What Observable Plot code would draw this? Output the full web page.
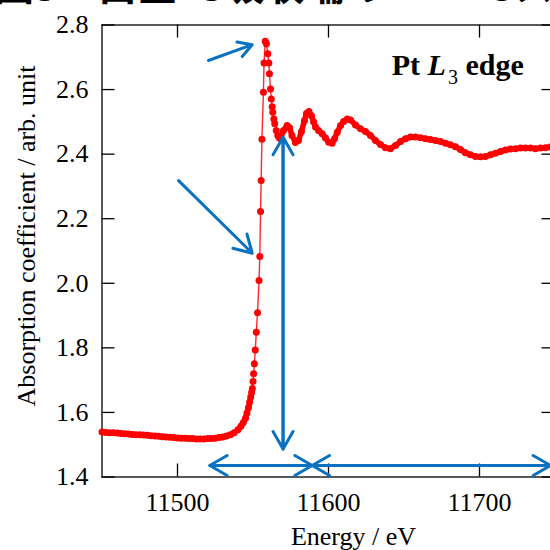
<!DOCTYPE html>
<html><head><meta charset="utf-8">
<script src="https://cdn.jsdelivr.net/npm/d3@7"></script>
<script src="https://cdn.jsdelivr.net/npm/@observablehq/plot@0.6"></script>
<style>
body{margin:0;width:550px;height:550px;overflow:hidden;position:relative;background:#fff}
#chart{position:absolute;left:0;top:0}
#title{position:absolute;left:-6px;top:-37px;font:bold 40px/40px "Noto Sans CJK JP";white-space:nowrap;color:#000;z-index:2}
</style></head><body>
<div id="chart"></div>
<div id="title">図3　白金L3吸収端のXANESスペクトル</div>
<script>
const energy = [
11450,11452.5,11455,11457.5,11460,11462.5,11465,11467.5,11470,11472.5,11475,11477.5,11480,11482.5,11485,11487.5,11490,11492.5,11495,11497.5,
11500,11502.5,11505,11507.5,11510,11512.5,11515,11517.5,11520,11522.5,11525,11527.5,11530,11532.5,11535,11537.5,11540,11542,11543.5,11545,
11546,11547,11547.8,11548.5,11549.1,11549.6,11550.0,11550.4,11550.9,11551.5,11552.2,11553.0,11554.0,11554.5,11555.0,11555.4,11555.9,11556.9,11557.3,11558.1,
11558.9,11559.8,11560.5,11560.9,11561.6,11562.1,11562.7,11563.1,11563.8,11564.4,11565.4,11566.4,11567.3,11568.2,11570.2,11572.6,11574.2,11575.8,11578.1,11580.1,
11582.1,11584.1,11585.4,11587.0,11588.7,11590.1,11591.4,11593.4,11595.8,11598.0,11600.2,11602.4,11604.0,11605.8,11608.0,11610.0,11612.4,11614.6,11617.9,11621.2,
11624.5,11627.8,11631.1,11634.4,11637.7,11641.0,11644.4,11647.7,11651.0,11654.3,11657.6,11660.9,11664.2,11667.5,11670.9,11674.2,11677.5,11680.8,11684.1,11687.4,
11690.7,11694.0,11697.4,11700.7,11704.0,11707.3,11710.6,11713.9,11717.2,11720.5,11723.8,11727.2,11730.5,11733.8,11737.1,11740.4,11743.7,11747.0
];
const absorption = [
1.539,1.538,1.537,1.537,1.536,1.535,1.534,1.533,1.532,1.531,1.531,1.530,1.529,1.528,1.527,1.526,1.525,1.524,1.523,1.522,
1.521,1.520,1.520,1.519,1.519,1.518,1.518,1.518,1.519,1.519,1.520,1.522,1.524,1.527,1.531,1.537,1.546,1.557,1.568,1.582,
1.598,1.615,1.632,1.648,1.662,1.674,1.696,1.720,1.751,1.793,1.848,1.909,2.009,2.083,2.222,2.318,2.446,2.592,2.682,2.750,
2.742,2.711,2.682,2.649,2.602,2.571,2.547,2.530,2.509,2.494,2.473,2.458,2.451,2.448,2.473,2.489,2.482,2.458,2.436,2.442,
2.470,2.504,2.526,2.532,2.519,2.500,2.484,2.473,2.463,2.450,2.437,2.434,2.448,2.468,2.489,2.501,2.509,2.506,2.490,2.479,
2.470,2.458,2.442,2.430,2.420,2.417,2.427,2.439,2.448,2.453,2.453,2.451,2.448,2.445,2.442,2.439,2.434,2.429,2.423,2.414,
2.404,2.398,2.393,2.392,2.393,2.398,2.403,2.408,2.413,2.416,2.417,2.419,2.419,2.419,2.417,2.419,2.420,2.422
];
const xTicks = [11500, 11600, 11700];
const yTicks = [1.4, 1.6, 1.8, 2.0, 2.2, 2.4, 2.6, 2.8];
const xLabel = "Energy / eV";
const yLabel = "Absorption coefficient / arb. unit";

// annotation arrows (data units)
const arrowFromE = [11520.5, 11500.7, 11569.9, 11569.9, 11521.4, 11589.2, 11589.2, 11747];
const arrowFromA = [2.690, 2.318, 1.487, 2.452, 1.4356, 1.4356, 1.4356, 1.4356];
const arrowToE   = [11549.5, 11549.5, 11569.9, 11569.9, 11589.2, 11521.4, 11747, 11589.2];
const arrowToA   = [2.739, 2.093, 2.452, 1.487, 1.4356, 1.4356, 1.4356, 1.4356];

const labelPos = {e: 11642.2, a: 2.643};

const data = energy.map((e, i) => ({e, a: absorption[i]}));
const arrows = arrowFromE.map((e, i) => ({x1: e, y1: arrowFromA[i], x2: arrowToE[i], y2: arrowToA[i]}));

const mL = 101.5, mR = -4.5, mT = 24.5, mB = 73.5;
const pw = 550 - mL - mR, ph = 550 - mT - mB;
const tk = 13;
const blue = "#0b72c2";
const ff = "Liberation Serif";
const fs = 26;

const plot = Plot.plot({
  width: 550, height: 550,
  marginLeft: mL, marginRight: mR, marginTop: mT, marginBottom: mB,
  x: {domain: [11450, 11750]},
  y: {domain: [1.4, 2.8]},
  style: {fontFamily: ff, fontSize: fs + "px", color: "black", background: "white", overflow: "hidden"},
  marks: [
    Plot.frame({stroke: "black", strokeWidth: 1.3}),
    Plot.tickY(yTicks, {y: d => d, insetRight: pw - tk, stroke: "black", strokeWidth: 1.3}),
    Plot.tickY(yTicks, {y: d => d, insetLeft: pw - tk, stroke: "black", strokeWidth: 1.3}),
    Plot.tickX(xTicks, {x: d => d, insetTop: ph - tk, stroke: "black", strokeWidth: 1.3}),
    Plot.tickX(xTicks, {x: d => d, insetBottom: ph - tk, stroke: "black", strokeWidth: 1.3}),
    Plot.axisX(xTicks, {anchor: "bottom", tickSize: 0, tickPadding: 16, label: null, fontSize: fs, fontFamily: ff, tickFormat: d => String(d)}),
    Plot.axisY(yTicks, {anchor: "left", tickSize: 0, tickPadding: 13.5, label: null, fontSize: fs, fontFamily: ff, tickFormat: d => d.toFixed(1)}),
    Plot.text([xLabel], {frameAnchor: "bottom", text: d => d, textAnchor: "middle", dx: 25, dy: 50, lineAnchor: "top", fontSize: fs, fontFamily: ff}),
    Plot.text([yLabel], {frameAnchor: "left", text: d => d, textAnchor: "middle", rotate: -90, dx: -75, dy: -15, fontSize: fs, fontFamily: ff}),
    Plot.line(data, {x: "e", y: "a", stroke: "#ff2a2a", strokeWidth: 1.4}),
    Plot.line(data, {filter: d => d.e < 11548.6 || d.e > 11566, z: d => d.e < 11555 ? "pre" : "post", x: "e", y: "a", stroke: "#ff0000", strokeWidth: 5.5}),
    Plot.dot(data, {x: "e", y: "a", r: 3.5, fill: "#ff0000", stroke: "none"}),
    Plot.arrow(arrows, {x1: "x1", y1: "y1", x2: "x2", y2: "y2", stroke: blue, strokeWidth: 3, headLength: 10, headAngle: 60})
  ]
});
document.getElementById("chart").appendChild(plot);

// "Pt L3 edge" label
const svg = d3.select(plot);
const sx = plot.scale("x"), sy = plot.scale("y");
const t = svg.append("text")
  .attr("x", sx.apply(labelPos.e)).attr("y", sy.apply(labelPos.a))
  .attr("text-anchor", "start")
  .attr("font-family", ff).attr("font-size", 30).attr("font-weight", "bold").attr("fill", "black");
t.append("tspan").text("Pt ");
t.append("tspan").attr("font-style", "italic").text("L");
t.append("tspan").attr("font-weight", "normal").attr("font-size", 20).attr("dy", 9).attr("dx", 2).text("3");
t.append("tspan").attr("dy", -9).text(" edge");
</script>
</body></html>
